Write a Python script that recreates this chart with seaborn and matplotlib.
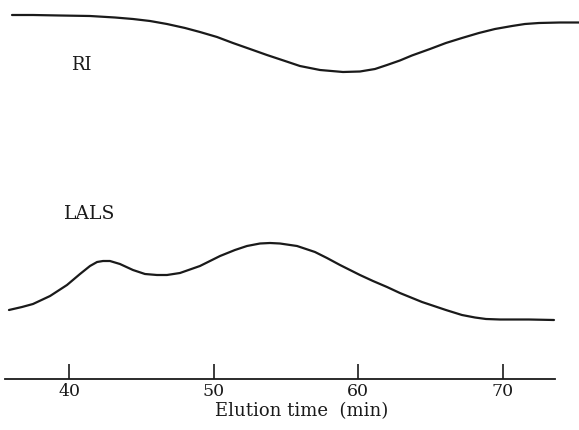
import matplotlib
matplotlib.use("Agg")
import matplotlib.pyplot as plt
import seaborn as sns
import pandas as pd

# Elution profiles (time in min, detector response in arbitrary units)
ri_time = [36.06, 37.51, 39.38, 41.45, 43.18, 44.42, 45.60, 46.77, 48.02,
           49.05, 50.23, 51.33, 52.51, 53.68, 54.93, 55.96, 57.35, 58.94,
           60.11, 61.15, 61.98, 62.87, 63.70, 64.95, 66.05, 67.16, 68.33,
           69.44, 70.62, 71.51, 72.48, 73.93, 75.25]
ri_signal = [364, 364, 363.5, 363, 361.5, 360, 358, 355, 351,
             347, 342, 336, 330, 324, 318, 313, 309, 307,
             307.5, 310, 314, 318.5, 323.5, 330, 336, 341, 346,
             350, 353, 355, 356, 356.5, 356.5]

lals_time = [35.85, 36.75, 37.51, 38.69, 39.86, 40.76, 41.45, 41.94, 42.35,
             42.83, 43.52, 44.42, 45.25, 46.08, 46.77, 47.67, 49.05, 50.44,
             51.47, 52.30, 53.20, 53.89, 54.58, 55.76, 57.00, 57.83, 58.73,
             59.42, 60.11, 61.01, 61.98, 62.87, 64.40, 66.05, 67.16, 68.06,
             68.82, 69.79, 71.79, 73.52]
lals_signal = [69, 72, 75, 83, 94, 105, 113, 117, 118,
               118, 115, 109, 105, 104, 104, 106, 113, 123,
               129, 133, 135.5, 136, 135.5, 133, 127, 121, 114,
               109, 104, 98, 92, 86, 77, 69, 64, 61.5,
               60, 59.5, 59.5, 59]

tick_values = [40, 50, 60, 70]
tick_labels = ["40", "50", "60", "70"]

sns.set_style("white")
plt.rcParams["font.family"] = ["DejaVu Serif"]

ink = "#1a1a1a"
ri = pd.DataFrame({"time": ri_time, "signal": ri_signal})
lals = pd.DataFrame({"time": lals_time, "signal": lals_signal})

fig = plt.figure(figsize=(5.79, 4.30), dpi=100)
ax = fig.add_axes([0.0, 51 / 430, 1.0, 1 - 51 / 430])

sns.lineplot(data=ri, x="time", y="signal", ax=ax, color=ink, linewidth=1.6)
sns.lineplot(data=lals, x="time", y="signal", ax=ax, color=ink, linewidth=1.6)

ax.set_xlim(35.23, 75.25)
ax.set_ylim(0, 379)

for side in ["left", "right", "top"]:
    ax.spines[side].set_visible(False)
ax.spines["bottom"].set_bounds(35.58, 73.59)
ax.spines["bottom"].set_linewidth(1.3)
ax.spines["bottom"].set_color(ink)

ax.set_yticks([])
ax.set_ylabel("")
ax.set_xticks(tick_values)
ax.set_xticklabels(tick_labels, fontsize=12.5)
ax.tick_params(axis="x", bottom=True, direction="in", length=11, width=1.2,
               color=ink, pad=3, labelcolor=ink)
ax.set_xlabel("Elution time  (min)", fontsize=13, color=ink)
ax.xaxis.label.set_va("center")
ax.xaxis.set_label_coords(302 / 579, -32 / 379)

fig.text(0.14, 0.849, "RI", fontsize=13, ha="center", va="center", color=ink)
fig.text(0.155, 0.502, "LALS", fontsize=13.5, ha="center", va="center", color=ink)

fig.savefig("out.png", dpi=100, facecolor="white")
